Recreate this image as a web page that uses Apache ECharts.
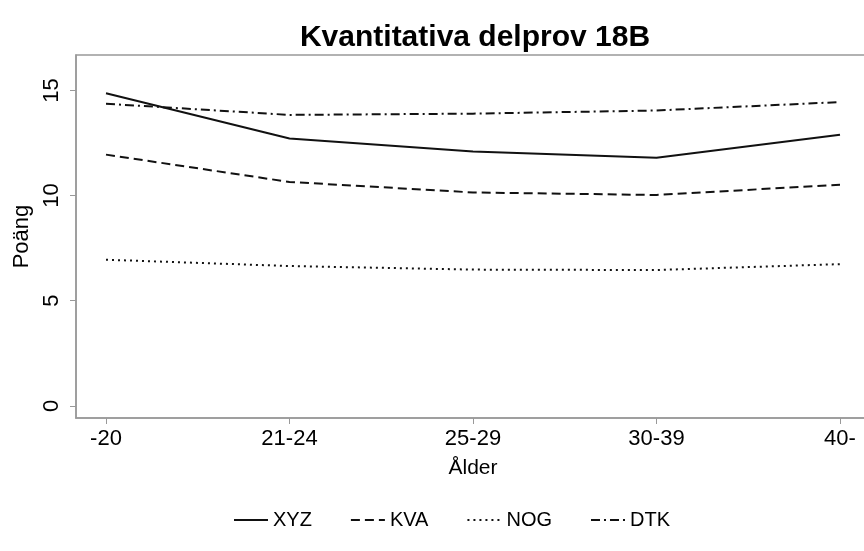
<!DOCTYPE html>
<html>
<head>
<meta charset="utf-8">
<script src="https://cdn.jsdelivr.net/npm/echarts@6/dist/echarts.min.js"></script>
<style>html,body{margin:0;padding:0;background:#fff}#c{width:864px;height:551px}</style>
</head>
<body>
<div id="c"></div>
<script>
var categories = ['-20', '21-24', '25-29', '30-39', '40-'];
var xyz = [14.87, 12.72, 12.1, 11.8, 12.9];
var kva = [11.95, 10.65, 10.15, 10.03, 10.52];
var nog = [6.95, 6.65, 6.48, 6.46, 6.74];
var dtk = [14.37, 13.84, 13.9, 14.05, 14.45];
var yTicks = [0, 5, 10, 15];
var seriesNames = ['XYZ', 'KVA', 'NOG', 'DTK'];

function pts(arr) { return arr.map(function (v, i) { return [i, v]; }); }
var font = 'Liberation Sans, Arial, sans-serif';
var col = '#111';
var chart = echarts.init(document.getElementById('c'), null, {renderer: 'canvas'});
var lineTypes = ['solid', [9, 5], [2, 4], [9, 4, 2, 4]];
var datas = [xyz, kva, nog, dtk];
chart.setOption({
  animation: false,
  backgroundColor: '#fff',
  title: {
    text: 'Kvantitativa delprov 18B',
    left: 470, top: 18, textAlign: 'center',
    textStyle: {fontFamily: font, fontSize: 30, fontWeight: 'bold', color: '#000'}
  },
  legend: {
    bottom: 16, left: 228,
    itemWidth: 34, itemHeight: 14, itemGap: 38,
    textStyle: {fontFamily: font, fontSize: 20, color: '#000'},
    itemStyle: {opacity: 0},
    data: seriesNames
  },
  grid: {left: 76, width: 794, top: 55, bottom: 133, show: true, borderColor: '#999', borderWidth: 1.5, containLabel: false, outerBoundsMode: 'none'},
  xAxis: {
    type: 'value', min: -0.1635, max: 4.1635,
    name: 'Ålder', nameLocation: 'middle', nameGap: 40,
    nameTextStyle: {fontFamily: font, fontSize: 21, color: '#000'},
    axisLine: {show: true, onZero: false, lineStyle: {color: '#999', width: 1.5}},
    axisTick: {show: true, customValues: [0, 1, 2, 3, 4], length: 6, lineStyle: {color: '#999'}},
    axisLabel: {customValues: [0, 1, 2, 3, 4], formatter: function (v) { return categories[Math.round(v)]; }, fontFamily: font, fontSize: 22, color: '#000', margin: 10},
    splitLine: {show: false}
  },
  yAxis: {
    type: 'value', min: -0.58, max: 16.69,
    name: 'Poäng', nameLocation: 'middle', nameGap: 42, nameRotate: 90,
    nameTextStyle: {fontFamily: font, fontSize: 22, color: '#000'},
    axisLine: {show: true, onZero: false, lineStyle: {color: '#999', width: 1.5}},
    axisTick: {show: true, customValues: yTicks, length: 6, lineStyle: {color: '#999'}},
    axisLabel: {customValues: yTicks, rotate: 90, fontFamily: font, fontSize: 22, color: '#000', margin: 13},
    splitLine: {show: false}
  },
  series: datas.map(function (d, k) {
    return {
      name: seriesNames[k], type: 'line', data: pts(d), symbol: 'none',
      lineStyle: {color: col, width: 2, type: lineTypes[k]},
      itemStyle: {color: col}
    };
  })
});
</script>
</body>
</html>
